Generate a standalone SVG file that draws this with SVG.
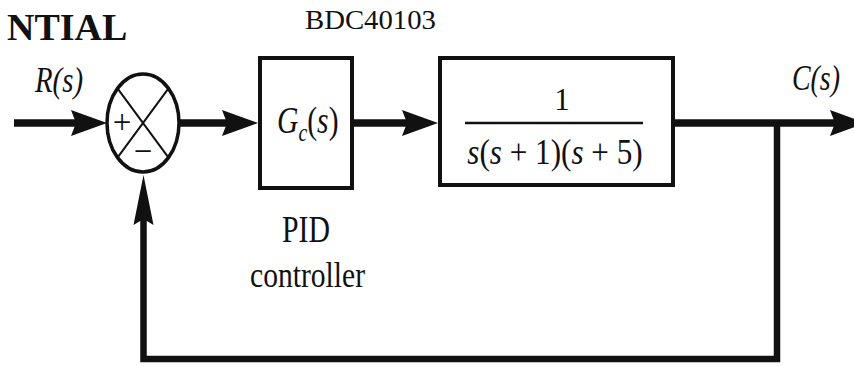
<svg xmlns="http://www.w3.org/2000/svg" width="854" height="366" viewBox="0 0 854 366">
<style>
.t{font-family:"Liberation Serif","Times New Roman","DejaVu Serif",serif;fill:#111}
.i{font-style:italic}
.blk{fill:#fff;stroke:#111;stroke-width:4}
.fw{fill:none;stroke:#111;stroke-width:7.5}
.fb{fill:none;stroke:#111;stroke-width:6.5;stroke-linejoin:miter}
.thin{stroke:#111;stroke-width:2;fill:none}
</style>
<defs>
<marker id="ah" markerUnits="userSpaceOnUse" markerWidth="36" markerHeight="26" viewBox="0 0 36 26" refX="16" refY="13" orient="auto">
<path d="M0,0 L36,13 L0,26 L5,13 Z" fill="#111"/>
</marker>
<marker id="ahv" markerUnits="userSpaceOnUse" markerWidth="50" markerHeight="22" viewBox="0 0 50 22" refX="30" refY="11" orient="auto">
<path d="M0,1 L50,11 L0,21 L6,11 Z" fill="#111"/>
</marker>
</defs>
<rect width="854" height="366" fill="#fff"/>
<g id="header">
<text class="t" x="7" y="40" font-size="38" font-weight="bold">NTIAL</text>
<text class="t" x="305" y="29" font-size="27" textLength="131" lengthAdjust="spacingAndGlyphs">BDC40103</text>
</g>
<g id="connectors">
<line class="fw" x1="14" y1="123" x2="87" y2="123" marker-end="url(#ah)"/>
<line class="fw" x1="179" y1="123" x2="238" y2="123" marker-end="url(#ah)"/>
<line class="fw" x1="354" y1="123" x2="418" y2="123" marker-end="url(#ah)"/>
<line class="fw" x1="675" y1="123" x2="846" y2="123" marker-end="url(#ah)"/>
<path class="fb" d="M777,123 V359 H143.5 V195" marker-end="url(#ahv)"/>
</g>
<g id="sum">
<ellipse cx="143" cy="123" rx="36" ry="49" fill="#fff" stroke="#111" stroke-width="3.5"/>
<line class="thin" x1="117.5" y1="88.4" x2="168.5" y2="157.6"/>
<line class="thin" x1="168.5" y1="88.4" x2="117.5" y2="157.6"/>
<text class="t" x="122" y="133" font-size="33" text-anchor="middle">+</text>
<text class="t" x="143" y="162" font-size="33" text-anchor="middle">−</text>
</g>
<g id="labels">
<text class="t i" x="35" y="92" font-size="36" textLength="48" lengthAdjust="spacingAndGlyphs">R(s)</text>
<text class="t i" x="792" y="90" font-size="36" textLength="48" lengthAdjust="spacingAndGlyphs">C(s)</text>
</g>
<g id="controller">
<rect class="blk" x="260" y="58" width="92" height="130"/>
<text class="t" transform="translate(277,133) scale(0.8,1)" font-size="37"><tspan class="i">G</tspan><tspan class="i" font-size="25" dy="8">c</tspan><tspan dy="-8">(</tspan><tspan class="i">s</tspan>)</text>
<text class="t" x="282" y="242" font-size="38" textLength="48" lengthAdjust="spacingAndGlyphs">PID</text>
<text class="t" x="250" y="287" font-size="36" textLength="115" lengthAdjust="spacingAndGlyphs">controller</text>
</g>
<g id="plant">
<rect class="blk" x="440" y="58" width="233" height="127"/>
<text class="t" x="562" y="110" font-size="31" text-anchor="middle">1</text>
<line x1="465" y1="123" x2="643" y2="123" stroke="#111" stroke-width="2.5"/>
<text class="t" transform="translate(555,164) scale(0.89,1)" font-size="35" text-anchor="middle"><tspan class="i">s</tspan>(<tspan class="i">s</tspan> + 1)(<tspan class="i">s</tspan> + 5)</text>
</g>
</svg>
